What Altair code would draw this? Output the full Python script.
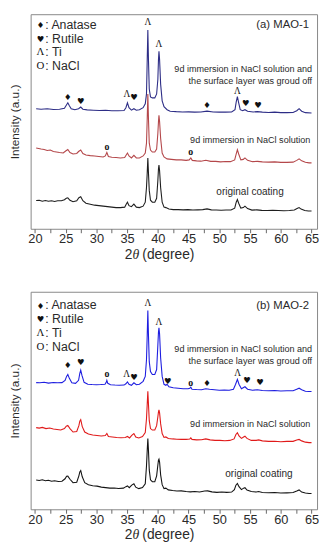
import altair as alt
import pandas as pd

# ---------------- data (2theta in degree, intensity in a.u.) ----------------
# Panel (a) MAO-1
a_blue_x = [20.2, 21.0, 22.0, 23.0, 24.0, 24.8, 25.1, 25.35, 25.6, 25.9, 26.5, 27.1, 27.45, 27.8, 28.5, 29.5, 30.5, 31.5, 32.5, 33.5, 34.5, 34.8, 35.05, 35.3, 35.7, 36.1, 36.5, 37.0, 37.6, 37.95, 38.15, 38.27, 38.37, 38.47, 38.6, 38.8, 39.1, 39.5, 39.8, 40.0, 40.1, 40.18, 40.28, 40.45, 40.7, 41.0, 41.5, 42, 43, 44, 45, 46, 47, 48, 49, 50, 51, 52, 52.55, 52.75, 52.94, 53.15, 53.4, 53.8, 54.17, 54.6, 55.5, 56.2, 57, 58, 59, 60, 61, 62, 62.6, 62.98, 63.4, 64, 65]
a_blue_y = [122, 121.5, 122, 121.2, 121.5, 122.5, 125.5, 128, 125, 122, 121, 122, 123.7, 121.5, 120.8, 120.5, 120.2, 120.5, 120, 120, 120.2, 123, 128, 123, 120.5, 122, 120.5, 121, 123, 127, 137, 172, 202, 172, 142, 134, 133, 133, 137, 152, 172, 180.3, 172, 147, 130, 124, 121, 119.5, 119, 118.7, 118.8, 118.5, 118.7, 119.5, 118.7, 118.5, 118.5, 118.7, 121, 129, 134.3, 128, 121, 120, 121, 119.5, 118.7, 119, 118.5, 118.2, 118.5, 118, 118, 118.2, 120, 122, 119.5, 118, 117.7]

a_red_x = [20.2, 20.6, 21.0, 21.5, 22.0, 22.5, 23.0, 23.5, 24.0, 24.6, 25.0, 25.35, 25.7, 26.2, 26.8, 27.1, 27.45, 27.8, 28.3, 29.0, 29.7, 30.4, 31.1, 31.45, 31.7, 31.95, 32.5, 33.2, 33.9, 34.6, 34.85, 35.05, 35.3, 35.7, 36.1, 36.5, 37.0, 37.6, 37.95, 38.15, 38.27, 38.37, 38.47, 38.6, 38.8, 39.1, 39.5, 39.8, 40.0, 40.1, 40.18, 40.28, 40.45, 40.7, 41.0, 41.5, 42.2, 43.0, 43.8, 44.6, 45.1, 45.36, 45.6, 46.3, 47.0, 47.8, 48.6, 49.4, 50.2, 51.0, 51.8, 52.5, 52.75, 52.94, 53.15, 53.5, 53.9, 54.17, 54.6, 55.4, 56.2, 57.0, 58.0, 59.0, 60.0, 61.0, 62.0, 62.6, 62.98, 63.4, 64.0, 64.6, 65.0]
a_red_y = [82, 81.5, 81, 80.5, 79.5, 80, 78.5, 78, 77.5, 77, 79, 80.5, 77.5, 76, 76.5, 78.5, 80, 76.5, 75, 74.3, 74, 73.5, 73, 74, 77.5, 73.5, 72.7, 72.5, 72, 72.5, 75, 77, 74, 72, 74.7, 72, 72, 74, 77, 87, 112, 137, 112, 87, 80, 78, 78, 81, 97, 109, 115.3, 109, 92, 77, 73, 71, 70.5, 70, 70, 69.5, 70, 72, 69.5, 69, 68.7, 69.7, 68.5, 68.5, 68, 68.3, 68.2, 70, 76, 80.3, 76, 70, 70.5, 72, 69.5, 68.2, 68.5, 68, 67.7, 68, 67.5, 67.5, 67.7, 69.5, 71, 69, 67.5, 67, 67]

a_black_x = [20.2, 20.7, 21.2, 21.7, 22.2, 22.7, 23.2, 23.7, 24.3, 24.8, 25.1, 25.35, 25.7, 26.2, 26.8, 27.15, 27.45, 27.8, 28.3, 29.0, 29.7, 30.4, 31.1, 31.8, 32.5, 33.2, 33.9, 34.6, 34.85, 35.05, 35.3, 35.7, 36.1, 36.5, 37.0, 37.6, 37.95, 38.15, 38.27, 38.37, 38.47, 38.6, 38.8, 39.1, 39.5, 39.8, 40.0, 40.1, 40.18, 40.28, 40.45, 40.7, 41.0, 41.3, 41.8, 42.5, 43.3, 44.1, 44.9, 45.7, 46.5, 47.3, 48.0, 48.7, 49.5, 50.3, 51.1, 51.9, 52.5, 52.75, 52.94, 53.15, 53.5, 53.9, 54.17, 54.6, 55.3, 56.1, 56.9, 57.8, 58.7, 59.6, 60.5, 61.4, 62.2, 62.65, 62.98, 63.3, 63.9, 64.5, 65.0]
a_black_y = [28.7, 29, 28, 28.8, 28, 28.5, 27.8, 28.5, 28.5, 29.5, 31, 31.5, 29, 27.5, 28.5, 31.5, 32.5, 28.5, 26, 25, 24, 23.5, 23, 22.5, 22, 21.5, 21.5, 22, 25, 27, 23.5, 22.5, 25, 22, 21.5, 23, 27, 42, 57, 72, 57, 39, 29, 27, 27, 31, 49, 61, 64.7, 59, 42, 27, 22, 21.5, 20, 19.5, 19.5, 19.2, 19.5, 19, 19.2, 19.5, 20.2, 19.2, 19, 18.8, 19, 19, 21, 27, 29.7, 26, 21, 21.5, 23, 20.5, 19, 19.2, 18.7, 18.5, 18.7, 18.5, 18.3, 18.5, 19, 20.5, 21.5, 20, 18.5, 18, 18]

# Panel (b) MAO-2
b_blue_x = [20.2, 20.8, 21.5, 22.2, 23.0, 23.7, 24.4, 24.9, 25.15, 25.35, 25.6, 26.0, 26.6, 27.1, 27.3, 27.45, 27.65, 28.0, 28.6, 29.3, 30.0, 30.7, 31.4, 31.6, 31.7, 31.85, 32.3, 33.0, 33.7, 34.5, 34.8, 35.05, 35.3, 35.7, 36.1, 36.5, 37.0, 37.6, 37.95, 38.15, 38.27, 38.37, 38.47, 38.6, 38.8, 39.1, 39.5, 39.8, 40.0, 40.1, 40.18, 40.28, 40.45, 40.7, 41.0, 41.3, 41.5, 41.8, 42.5, 43.3, 44.1, 44.9, 45.2, 45.36, 45.55, 46.3, 47.1, 47.8, 48.4, 49.2, 50.0, 50.8, 51.6, 52.3, 52.65, 52.94, 53.2, 53.6, 54.17, 54.6, 55.4, 56.2, 57.0, 58.0, 59.0, 60.0, 61.0, 62.0, 62.6, 62.98, 63.4, 64.0, 64.6, 65.0]
b_blue_y = [128.7, 128.5, 129, 128.2, 128.8, 128.5, 128.7, 131, 135, 137, 133, 128.5, 128, 131, 138, 141.3, 136, 129, 127, 126.7, 126.5, 126.7, 127, 129, 131, 128, 126.5, 126.2, 126, 126.2, 127.5, 129.5, 127, 126, 128.5, 126.5, 127, 130, 135, 152, 177, 202, 177, 150, 140, 137, 137, 142, 167, 180, 184.3, 178, 154, 135, 127, 126, 127, 124.5, 123.5, 123, 122.5, 122.5, 123, 124, 122, 121.7, 121.5, 122.5, 122, 121.5, 121, 121.2, 121, 122, 127, 132, 127, 122.5, 124.5, 122, 121, 121.5, 120.7, 120.5, 120.7, 120.2, 120.5, 120.5, 122, 123, 121.5, 120, 119.7, 119.7]

b_red_x = [20.2, 20.7, 21.2, 21.8, 22.4, 23.0, 23.6, 24.2, 24.8, 25.1, 25.35, 25.7, 26.2, 26.8, 27.15, 27.3, 27.45, 27.7, 28.1, 28.7, 29.4, 30.1, 30.8, 31.45, 31.7, 31.95, 32.6, 33.3, 34.0, 34.7, 35.05, 35.4, 35.75, 36.1, 36.4, 36.9, 37.5, 37.95, 38.15, 38.27, 38.37, 38.47, 38.6, 38.8, 39.1, 39.5, 39.8, 40.0, 40.1, 40.18, 40.28, 40.45, 40.7, 41.0, 41.3, 41.7, 42.4, 43.1, 43.8, 44.6, 45.2, 45.36, 45.55, 46.3, 47.1, 47.8, 48.5, 49.3, 50.1, 50.9, 51.7, 52.4, 52.7, 52.94, 53.2, 53.6, 53.95, 54.17, 54.5, 55.2, 56.0, 56.4, 57.0, 58.0, 59.0, 60.0, 61.0, 62.0, 62.6, 62.98, 63.4, 64.0, 64.6, 65.0]
b_red_y = [83, 82.5, 83.2, 82, 82.5, 81.5, 81, 80.5, 82, 84.5, 85.3, 82, 78.5, 79, 85, 89.5, 91, 84, 78.5, 76.5, 75.5, 75, 74.5, 75, 77, 74, 73.5, 73, 72.7, 73, 74, 72.5, 75, 77, 73.5, 72.5, 74, 78, 92, 107, 120, 107, 90, 82, 80.5, 80.5, 85, 94, 99, 101, 98, 87, 77, 73, 73.5, 72, 71.5, 71.2, 71, 71, 71.5, 72.5, 71, 70.5, 70.7, 71.5, 70.5, 70, 70, 69.7, 70, 71.5, 76, 77.7, 74.5, 72, 73.5, 74.3, 72, 70, 70, 70.5, 69.5, 69, 69.2, 68.7, 69, 69, 70.5, 71, 69.5, 68.2, 67.7, 67.7]

b_black_x = [20.2, 20.7, 21.2, 21.7, 22.2, 22.7, 23.2, 23.8, 24.4, 24.9, 25.15, 25.35, 25.7, 26.2, 26.8, 27.15, 27.3, 27.45, 27.7, 28.1, 28.7, 29.4, 30.1, 30.8, 31.5, 32.2, 32.9, 33.6, 34.4, 34.8, 35.05, 35.35, 35.75, 36.1, 36.4, 36.9, 37.5, 37.95, 38.15, 38.27, 38.37, 38.47, 38.6, 38.8, 39.1, 39.5, 39.8, 40.0, 40.1, 40.18, 40.28, 40.45, 40.7, 41.0, 41.3, 41.7, 42.4, 43.1, 43.8, 44.6, 45.3, 46.0, 46.8, 47.6, 48.1, 48.8, 49.6, 50.4, 51.2, 52.0, 52.45, 52.7, 52.94, 53.2, 53.6, 53.95, 54.17, 54.5, 55.2, 56.0, 56.4, 57.0, 58.0, 59.0, 60.0, 61.0, 62.0, 62.6, 62.98, 63.4, 64.0, 64.6, 65.0]
b_black_y = [29.7, 29.2, 30, 29, 29.5, 28.5, 29, 28.2, 28.5, 31, 33.5, 33.7, 30.5, 27, 27.5, 34, 38, 39.3, 33, 27, 25, 24, 23.5, 22.5, 22, 21.5, 21.7, 21.2, 21.5, 23, 23.7, 22, 24.5, 26, 22.5, 21, 22, 26, 44, 60, 72, 60, 40, 30, 28, 28, 34, 45, 50, 51, 48, 35, 25, 21, 21.5, 19.7, 19, 18.5, 18.7, 18, 17.7, 18, 17.5, 18.5, 18.7, 17.7, 17.2, 17.5, 17.2, 17.5, 20, 24.5, 26.3, 23, 20, 21.5, 22, 19.5, 18, 17.5, 18, 17, 16.8, 17, 16.5, 16.7, 17, 18.5, 19.7, 17.5, 16.5, 16, 16]

# phase markers: (2theta, intensity, symbol)
a_mark_x = [25.35, 27.45, 34.95, 36.1, 38.37, 40.18, 48.0, 52.94, 54.3, 56.3, 31.7, 45.36]
a_mark_y = [134.3, 129.3, 137, 133.7, 210.3, 187.7, 125.3, 140.3, 127.7, 125.3, 82.7, 77.7]
a_mark_s = ["♦", "♥", "Λ", "♥", "Λ", "Λ", "♦", "Λ", "♥", "♥", "o", "o"]

b_mark_x = [25.35, 27.45, 31.7, 34.9, 36.1, 38.37, 40.18, 41.6, 45.36, 48.0, 53.0, 54.5, 56.6]
b_mark_y = [147, 149.3, 137, 137, 134.7, 209.3, 190.3, 130.3, 128.7, 128.7, 138, 131, 129.7]
b_mark_s = ["♦", "♥", "o", "Λ", "♥", "Λ", "Λ", "♥", "o", "♦", "Λ", "♥", "♥"]

legend_sym = ["♦", "♥", "Λ", "O"]
legend_lab = [": Anatase", ": Rutile", ": Ti", ": NaCl"]
legend_y = [207, 193, 179.5, 165.3]

a_title = "(a) MAO-1"
b_title = "(b) MAO-2"
txt_ground = ["9d immersion in NaCl solution and", "the surface layer was groud off"]
txt_nacl = "9d immersion in NaCl solution"
txt_orig = "original coating"

a_colors = {"blue": "#2d2d86", "red": "#b4474a", "black": "#1e1e1e"}
b_colors = {"blue": "#1e1ee0", "red": "#e01a1a", "black": "#141414"}

SANS = "Liberation Sans"
SERIF = "Liberation Serif"
SYM = "DejaVu Sans"
TXT = "#2a2a2a"


def make_panel(height, series, mk_x, mk_y, mk_s, title, ground_y, nacl_y, orig_x, orig_y):
    xs = [20 + 2.5 * i for i in range(19)]
    x_enc = alt.X(
        "tt:Q",
        scale=alt.Scale(domain=[19.3, 65.9], nice=False, zero=False),
        axis=alt.Axis(
            values=xs,
            labelExpr="datum.value % 5 === 0 ? datum.label : ''",
            title=None, grid=False, domain=False, tickSize=4, tickColor="#666666",
            labelFont=SANS, labelFontSize=13, labelColor=TXT, labelPadding=0,
            labelOverlap=False, labelFlush=False,
        ),
    )
    y_enc = alt.Y(
        "iy:Q",
        scale=alt.Scale(domain=[0, height], nice=False, zero=False),
        axis=alt.Axis(
            title="Intensity (a.u.)", labels=False, ticks=False, domain=False, grid=False,
            titleFont=SANS, titleFontSize=12, titleFontWeight="normal", titleColor=TXT,
            titlePadding=9,
        ),
    )
    layers = []
    for xv, yv, col in series:
        df = pd.DataFrame({"tt": xv, "iy": yv})
        layers.append(
            alt.Chart(df).mark_line(color=col, strokeWidth=1.1, interpolate="linear")
            .encode(x=x_enc, y=y_enc)
        )
    mk = pd.DataFrame({"tt": mk_x, "iy": mk_y, "s": mk_s})
    sym_df = mk[mk["s"].isin(["♦", "♥"])]
    ser_df = mk[mk["s"] == "Λ"]
    o_df = mk[mk["s"] == "o"]
    layers.append(alt.Chart(sym_df).mark_text(font=SYM, fontSize=8.5, color="#111", baseline="middle")
                  .encode(x=x_enc, y=y_enc, text="s:N"))
    layers.append(alt.Chart(ser_df).mark_text(font=SERIF, fontSize=9.5, color="#111", baseline="middle")
                  .encode(x=x_enc, y=y_enc, text="s:N"))
    layers.append(alt.Chart(o_df).mark_text(font=SERIF, fontSize=10, fontWeight="bold", color="#111", baseline="middle")
                  .encode(x=x_enc, y=y_enc, text="s:N"))

    # legend block (symbol right-aligned, label left-aligned at the same anchor)
    leg = pd.DataFrame({"tt": [21.6] * 4, "iy": legend_y, "s": legend_sym, "l": legend_lab})
    leg_sym = leg[leg["s"].isin(["♦", "♥"])]
    leg_ser = leg[~leg["s"].isin(["♦", "♥"])]
    layers.append(alt.Chart(leg_sym).mark_text(font=SYM, fontSize=8.5, color="#111", baseline="middle", align="right", dx=-0.5)
                  .encode(x=x_enc, y=y_enc, text="s:N"))
    layers.append(alt.Chart(leg_ser).mark_text(font=SERIF, fontSize=11, color="#111", baseline="middle", align="right", dx=-0.5)
                  .encode(x=x_enc, y=y_enc, text="s:N"))
    layers.append(alt.Chart(leg).mark_text(font=SANS, fontSize=12.5, color=TXT, baseline="middle", align="left", dx=0.5)
                  .encode(x=x_enc, y=y_enc, text="l:N"))

    # texts
    tdf = pd.DataFrame({
        "tt": [64.6, 65.1, 65.1, 64.8, orig_x],
        "iy": [207, ground_y[0], ground_y[1], nacl_y, orig_y],
        "t": [title, txt_ground[0], txt_ground[1], txt_nacl, txt_orig],
        "fs": [11.5, 9.2, 9.2, 9.2, 10.2],
        "al": ["right", "right", "right", "right", "center"],
    })
    for _, r in tdf.iterrows():
        layers.append(
            alt.Chart(pd.DataFrame([r])).mark_text(font=SANS, fontSize=float(r["fs"]), color=TXT,
                                                   baseline="middle", align=r["al"])
            .encode(x=x_enc, y=y_enc, text="t:N")
        )

    # x-axis title "2θ (degree)" with italic theta
    ty = height + 26.5
    layers.append(alt.Chart(pd.DataFrame({"t": ["2"]})).mark_text(font=SANS, fontSize=14, color=TXT, align="right", baseline="middle")
                  .encode(x=alt.value(103.5), y=alt.value(ty), text="t:N"))
    layers.append(alt.Chart(pd.DataFrame({"t": ["θ"]})).mark_text(font=SERIF, fontSize=14, fontStyle="italic", color=TXT, align="left", baseline="middle")
                  .encode(x=alt.value(103.5), y=alt.value(ty), text="t:N"))
    layers.append(alt.Chart(pd.DataFrame({"t": ["(degree)"]})).mark_text(font=SANS, fontSize=14, color=TXT, align="left", baseline="middle")
                  .encode(x=alt.value(113.5), y=alt.value(ty), text="t:N"))

    return alt.layer(*layers).properties(width=291, height=height)


p1 = make_panel(
    218,
    [(a_black_x, a_black_y, a_colors["black"]), (a_red_x, a_red_y, a_colors["red"]), (a_blue_x, a_blue_y, a_colors["blue"])],
    a_mark_x, a_mark_y, a_mark_s, a_title, (162.7, 150.3), 90.3, 55.0, 37.7,
)
p2 = make_panel(
    221,
    [(b_black_x, b_black_y, b_colors["black"]), (b_red_x, b_red_y, b_colors["red"]), (b_blue_x, b_blue_y, b_colors["blue"])],
    b_mark_x, b_mark_y, b_mark_s, b_title, (163, 151), 87, 56.45, 36,
)

chart = (
    alt.vconcat(p1, p2, spacing=29)
    .properties(padding={"left": 0, "top": 1, "right": 0, "bottom": 0}, background="white")
    .configure_view(stroke="#888888", strokeWidth=1)
)

chart.save("out.html", embed_options={"renderer": "svg", "actions": False})
